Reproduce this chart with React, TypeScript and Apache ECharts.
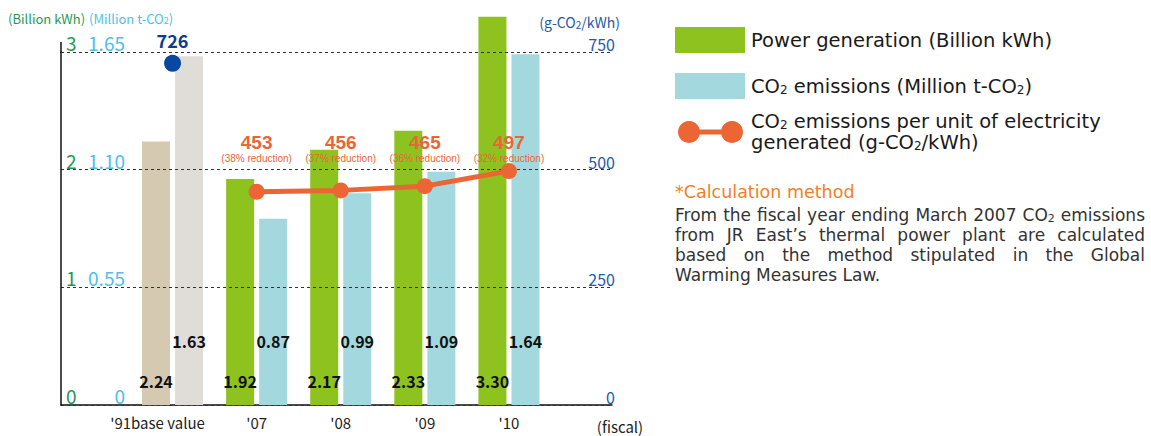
import React, { useEffect, useRef } from 'react';
import * as echarts from 'echarts';

// ---------- data ----------
const categories = ["'91base value", "'07", "'08", "'09", "'10"];
const powerGeneration = [2.24, 1.92, 2.17, 2.33, 3.3]; // Billion kWh
const co2Emissions = [1.63, 0.87, 0.99, 1.09, 1.64]; // Million t-CO2
const intensity = [726, 453, 456, 465, 497]; // g-CO2/kWh
const reductions = [0, 38, 37, 36, 32]; // % reduction vs base value

const powerTickLabels = ['0', '1', '2', '3'];
const co2TickLabels = ['0', '0.55', '1.10', '1.65'];
const intensityTickLabels = ['0', '250', '500', '750'];

const legendNames = [
  'Power generation (Billion kWh)',
  'CO{s|2} emissions (Million t-CO{s|2})',
  'CO{s|2} emissions per unit of electricity',
  'generated (g-CO{s|2}/kWh)',
];
const noteTitle = '*Calculation method';
const noteLines = [
  'From the fiscal year ending March 2007 CO2 emissions',
  'from JR East\u2019s thermal power plant are calculated',
  'based on the method stipulated in the Global',
  'Warming Measures Law.',
];

// ---------- styles ----------
const FONT = "'Noto Sans CJK JP', 'Noto Sans', sans-serif";
const WIDE = "'DejaVu Sans', 'Noto Sans', sans-serif";
const ARIAL = "'Liberation Sans', Arial, sans-serif";
const GREEN = '#8dc21f';
const BEIGE = '#d5c9b1';
const CYAN = '#a3d8df';
const GREY = '#e0dcd8';
const ORANGE = '#ec6535';
const BLUE = '#0a47a0';
const GREEN_T = '#1f9a55';
const CYAN_T = '#4dbfea';
const NAVY_T = '#1f5aa6';

export default function App() {
  const ref = useRef<HTMLDivElement>(null);

  useEffect(() => {
    if (!ref.current) return;
    const chart = echarts.init(ref.current, null, { renderer: 'svg' });

    const ctx = document.createElement('canvas').getContext('2d')!;
    const measure = (t: string, size: number) => {
      ctx.font = `${size}px ${WIDE}`;
      return ctx.measureText(t).width;
    };

    const NOTE_X = 675;
    const NOTE_W = 470;
    const NOTE_Y0 = 215;
    const NOTE_FS = 17;
    const SUB_FS = 11;
    const noteEls: any[] = [];
    noteLines.forEach((line, li) => {
      const words = line.split(' ');
      const widths = words.map((w) =>
        w === 'CO2' ? measure('CO', NOTE_FS) + measure('2', SUB_FS) : measure(w, NOTE_FS)
      );
      const total = widths.reduce((a, b) => a + b, 0);
      const last = li === noteLines.length - 1;
      const gap = last ? measure(' ', NOTE_FS) : (NOTE_W - total) / (words.length - 1);
      let x = NOTE_X;
      words.forEach((w, i) => {
        noteEls.push({
          type: 'text',
          x,
          y: NOTE_Y0 + li * 20,
          style: {
            text: w === 'CO2' ? 'CO{s|2}' : w,
            fontSize: NOTE_FS,
            fontFamily: WIDE,
            fill: '#333',
            verticalAlign: 'middle',
            lineHeight: 18,
            rich: { s: { fontSize: SUB_FS, fontFamily: WIDE, fill: '#333', verticalAlign: 'bottom', lineHeight: 16 } },
          },
        });
        x += widths[i] + gap;
      });
    });

    const sub = (size: number, color: string, family = FONT) => ({
      s: { fontSize: size, fontFamily: family, fill: color, verticalAlign: 'bottom', lineHeight: size + 4 },
    });

    const legendText = (text: string, y: number) => ({
      type: 'text', x: 751, y,
      style: {
        text, fontSize: 19.5, fontFamily: WIDE, fill: '#1a1a1a', verticalAlign: 'middle', lineHeight: 20,
        rich: sub(12, '#1a1a1a', WIDE),
      },
    });

    const legendEls: any[] = [
      { type: 'rect', shape: { x: 675, y: 27, width: 70, height: 26 }, style: { fill: GREEN } },
      legendText(legendNames[0], 40),
      { type: 'rect', shape: { x: 675, y: 73, width: 70, height: 26 }, style: { fill: CYAN } },
      legendText(legendNames[1], 86),
      { type: 'line', shape: { x1: 689, y1: 132, x2: 732, y2: 132 }, style: { stroke: ORANGE, lineWidth: 5 } },
      { type: 'circle', shape: { cx: 689, cy: 132, r: 11 }, style: { fill: ORANGE } },
      { type: 'circle', shape: { cx: 732, cy: 132, r: 11 }, style: { fill: ORANGE } },
      legendText(legendNames[2], 121),
      legendText(legendNames[3], 142),
      {
        type: 'text', x: 675, y: 192,
        style: { text: noteTitle, fontSize: 17.5, fontFamily: WIDE, fill: '#f07f2a', verticalAlign: 'middle' },
      },
    ];

    const unitEls: any[] = [
      { type: 'line', shape: { x1: 61, y1: 42, x2: 61, y2: 53 }, style: { stroke: '#111', lineWidth: 1.5 } },
      {
        type: 'text', x: 8, y: 18,
        style: { text: '(Billion kWh)', fontSize: 13, fontFamily: FONT, fill: GREEN_T, verticalAlign: 'middle' },
      },
      {
        type: 'text', x: 89, y: 18,
        style: { text: '(Million t-CO{s|2})', fontSize: 13, fontFamily: FONT, fill: CYAN_T, verticalAlign: 'middle', rich: sub(9, CYAN_T) },
      },
      {
        type: 'text', x: 620, y: 22,
        style: { text: '(g-CO{s|2}/kWh)', fontSize: 14, fontFamily: FONT, fill: NAVY_T, align: 'right', verticalAlign: 'middle', rich: sub(10, NAVY_T) },
      },
      {
        type: 'text', x: 620, y: 426,
        style: { text: '(fiscal)', fontSize: 15, fontFamily: FONT, fill: '#222', align: 'center', verticalAlign: 'middle' },
      },
    ];

    const hiddenY = (max: number, interval: number) => ({
      gridIndex: 1, type: 'value', min: 0, max, interval, show: false,
    });

    const option: any = {
      animation: false,
      textStyle: { fontFamily: FONT },
      grid: [
        { left: 61, top: 52, width: 551, height: 353 },
        { left: 130.5, top: 52, width: 420.5, height: 353 },
      ],
      xAxis: [
        {
          gridIndex: 0, type: 'value', min: 0, max: 1,
          axisLine: { show: true, onZero: false, lineStyle: { color: '#111', width: 1.5 } },
          axisTick: { show: false }, axisLabel: { show: false }, splitLine: { show: false },
        },
        {
          gridIndex: 1, type: 'category',
          data: categories.map((c, i) => (i === 0 ? { value: c, textStyle: { padding: [0, 30, 0, 0] } } : c)),
          axisLine: { show: false }, axisTick: { show: false },
          axisLabel: { interval: 0, fontFamily: FONT, fontSize: 15, color: '#222', margin: 10 },
        },
      ],
      yAxis: [
        {
          gridIndex: 0, type: 'value', position: 'left', min: 0, max: 3, interval: 1, z: 5,
          axisLine: { show: true, lineStyle: { color: '#111', width: 1.5 } },
          axisTick: { show: false },
          axisLabel: {
            inside: true, margin: 5, fontFamily: FONT, fontSize: 19, color: GREEN_T, verticalAlign: 'bottom',
            formatter: (_v: number, i: number) => powerTickLabels[i],
          },
          splitLine: { show: true, lineStyle: { type: [3, 3], color: '#333', width: 1 } },
        },
        {
          gridIndex: 0, type: 'value', position: 'left', min: 0, max: 1.65, interval: 0.55,
          axisLine: { show: false }, axisTick: { show: false }, splitLine: { show: false },
          axisLabel: {
            inside: true, margin: 64, align: 'right', fontFamily: FONT, fontSize: 19, color: CYAN_T, verticalAlign: 'bottom',
            formatter: (_v: number, i: number) => co2TickLabels[i],
          },
        },
        {
          gridIndex: 0, type: 'value', position: 'right', min: 0, max: 750, interval: 250,
          axisLine: { show: false }, axisTick: { show: false }, splitLine: { show: false },
          axisLabel: {
            inside: true, margin: -3, align: 'right', fontFamily: FONT, fontSize: 16, color: NAVY_T, verticalAlign: 'bottom',
            formatter: (_v: number, i: number) => intensityTickLabels[i],
          },
        },
        hiddenY(3, 1),
        hiddenY(1.65, 0.55),
        hiddenY(750, 250),
      ],
      series: [
        {
          type: 'bar', name: 'Power generation (Billion kWh)', xAxisIndex: 1, yAxisIndex: 3,
          barWidth: 28, barGap: '18%', clip: false,
          itemStyle: { color: GREEN },
          data: powerGeneration.map((v, i) => (i === 0 ? { value: v, itemStyle: { color: BEIGE } } : v)),
          label: {
            show: true, position: 'insideBottom', distance: 16,
            fontFamily: FONT, fontWeight: 'bold', fontSize: 16, color: '#111',
            formatter: (p: any) => Number(p.value).toFixed(2),
          },
        },
        {
          type: 'bar', name: 'CO2 emissions (Million t-CO2)', xAxisIndex: 1, yAxisIndex: 4,
          barWidth: 28, barGap: '18%', clip: false,
          itemStyle: { color: CYAN },
          data: co2Emissions.map((v, i) => (i === 0 ? { value: v, itemStyle: { color: GREY } } : v)),
          label: {
            show: true, position: 'insideBottom', distance: 56,
            fontFamily: FONT, fontWeight: 'bold', fontSize: 16, color: '#111',
            formatter: (p: any) => Number(p.value).toFixed(2),
          },
        },
        {
          type: 'line', name: 'CO2 emissions per unit of electricity generated (g-CO2/kWh)',
          xAxisIndex: 1, yAxisIndex: 5, z: 6,
          data: intensity.map((v, i) => (i === 0 ? '-' : v)),
          symbol: 'circle', symbolSize: 16,
          itemStyle: { color: ORANGE },
          lineStyle: { color: ORANGE, width: 5 },
          label: {
            show: true, position: 'top', align: 'center',
            formatter: (p: any) => `{v|${p.value}}\n{r|(${reductions[p.dataIndex]}% reduction)}`,
            rich: {
              v: { fontFamily: ARIAL, fontWeight: 'bold', fontSize: 19, color: ORANGE, lineHeight: 20, align: 'center' },
              r: { fontFamily: ARIAL, fontSize: 10, color: ORANGE, lineHeight: 13, align: 'center' },
            },
          },
          labelLayout: { y: 165, align: 'center', verticalAlign: 'bottom' },
        },
        {
          type: 'scatter', name: 'Base value intensity', xAxisIndex: 1, yAxisIndex: 5, z: 6,
          data: intensity.map((v, i) => (i === 0 ? v : '-')),
          symbol: 'circle', symbolSize: 17,
          itemStyle: { color: BLUE, opacity: 1 },
          label: {
            show: true, position: 'top', distance: 6,
            fontFamily: FONT, fontWeight: 'bold', fontSize: 18, color: '#0d3d8c',
          },
        },
      ],
      graphic: [...unitEls, ...legendEls, ...noteEls],
    };

    chart.setOption(option);
    return () => chart.dispose();
  }, []);

  return (
    <div
      ref={ref}
      style={{ position: 'fixed', left: 0, top: 0, width: 1151, height: 436, background: '#fff' }}
    />
  );
}
